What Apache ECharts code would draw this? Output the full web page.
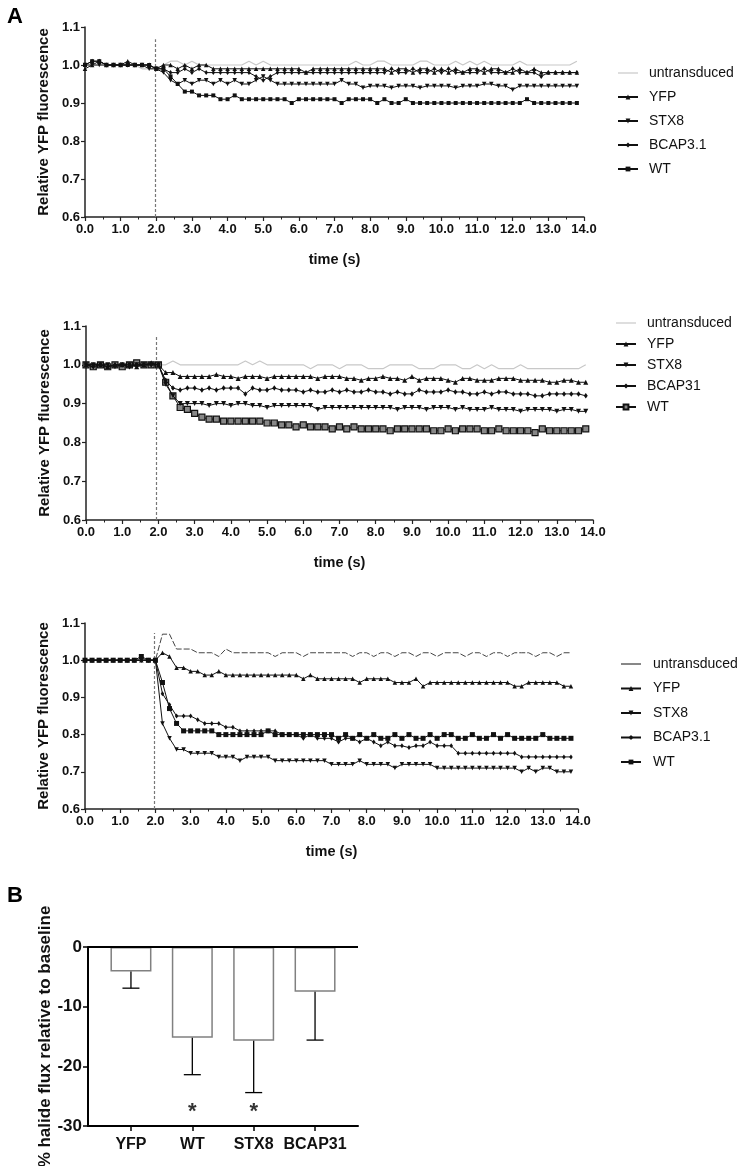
<!DOCTYPE html>
<html><head><meta charset="utf-8">
<script src="https://cdn.jsdelivr.net/npm/echarts@6/dist/echarts.min.js"></script>
<style>html,body{margin:0;padding:0;background:#fff}#c{width:743px;height:1166px}</style>
</head><body><div id="c"></div>
<script>
// ---------- DATA ----------
const times = [0.0,0.2,0.4,0.6,0.8,1.0,1.2,1.4,1.6,1.8,2.0,2.2,2.4,2.6,2.8,3.0,3.2,3.4,3.6,3.8,
4.0,4.2,4.4,4.6,4.8,5.0,5.2,5.4,5.6,5.8,6.0,6.2,6.4,6.6,6.8,7.0,7.2,7.4,7.6,7.8,
8.0,8.2,8.4,8.6,8.8,9.0,9.2,9.4,9.6,9.8,10.0,10.2,10.4,10.6,10.8,11.0,11.2,11.4,11.6,11.8,
12.0,12.2,12.4,12.6,12.8,13.0,13.2,13.4,13.6,13.8];
const xTicks = [0,1,2,3,4,5,6,7,8,9,10,11,12,13,14];
const yTicks = [0.6,0.7,0.8,0.9,1.0,1.1];

const p1Names = ['untransduced','YFP','STX8','BCAP3.1','WT'];
const p1Untr = [1.00,1.00,1.00,1.00,1.00,1.00,1.00,1.00,0.99,0.99,
0.99,1.00,1.01,1.01,1.00,1.01,1.00,1.00,1.00,1.00,
1.00,1.00,1.00,1.01,1.00,1.01,1.00,1.00,1.00,1.00,
1.00,1.00,1.00,1.00,1.00,1.00,1.00,1.00,1.01,1.00,
1.00,1.01,1.01,1.00,1.00,1.00,1.00,1.01,1.01,1.00,
1.00,1.00,1.01,1.00,1.01,1.00,1.01,1.00,1.00,1.00,
1.00,1.01,1.00,1.00,1.00,1.00,1.00,1.00,1.00,1.01];
const p1Yfp = [0.99,1.00,1.01,1.00,1.00,1.00,1.01,1.00,1.00,1.00,
0.99,1.00,1.00,0.99,1.00,0.99,1.00,1.00,0.99,0.99,
0.99,0.99,0.99,0.99,0.99,0.99,0.99,0.99,0.99,0.99,
0.99,0.98,0.99,0.99,0.99,0.99,0.99,0.99,0.99,0.99,
0.99,0.99,0.99,0.98,0.99,0.99,0.98,0.99,0.99,0.98,
0.99,0.98,0.99,0.98,0.99,0.99,0.98,0.99,0.99,0.98,
0.98,0.99,0.98,0.99,0.98,0.98,0.98,0.98,0.98,0.98];
const p1Stx8 = [1.00,1.00,1.00,1.00,1.00,1.00,1.00,1.00,1.00,0.99,
0.99,0.98,0.96,0.95,0.96,0.95,0.96,0.96,0.95,0.96,
0.95,0.96,0.95,0.95,0.96,0.97,0.96,0.95,0.95,0.95,
0.95,0.95,0.95,0.95,0.95,0.95,0.96,0.95,0.95,0.94,
0.945,0.945,0.945,0.94,0.945,0.945,0.945,0.94,0.945,0.945,
0.945,0.945,0.94,0.945,0.945,0.945,0.95,0.95,0.945,0.945,
0.935,0.945,0.945,0.945,0.945,0.945,0.945,0.945,0.945,0.945];
const p1Bcap = [1.00,1.01,1.01,1.00,1.00,1.00,1.00,1.00,1.00,1.00,
0.99,0.99,0.98,0.98,0.99,0.98,0.99,0.98,0.98,0.98,
0.98,0.98,0.98,0.98,0.97,0.96,0.97,0.98,0.98,0.98,
0.98,0.98,0.98,0.98,0.98,0.98,0.98,0.98,0.98,0.98,
0.98,0.98,0.98,0.99,0.98,0.98,0.99,0.98,0.98,0.99,
0.98,0.99,0.98,0.98,0.98,0.98,0.99,0.98,0.98,0.98,
0.99,0.98,0.98,0.98,0.97,0.98,0.98,0.98,0.98,0.98];
const p1Wt = [1.00,1.01,1.01,1.00,1.00,1.00,1.00,1.00,1.00,1.00,
0.99,0.99,0.97,0.95,0.93,0.93,0.92,0.92,0.92,0.91,
0.91,0.92,0.91,0.91,0.91,0.91,0.91,0.91,0.91,0.90,
0.91,0.91,0.91,0.91,0.91,0.91,0.90,0.91,0.91,0.91,
0.91,0.90,0.91,0.90,0.90,0.91,0.90,0.90,0.90,0.90,
0.90,0.90,0.90,0.90,0.90,0.90,0.90,0.90,0.90,0.90,
0.90,0.90,0.91,0.90,0.90,0.90,0.90,0.90,0.90,0.90];

const p2Names = ['untransduced','YFP','STX8','BCAP31','WT'];
const p2Untr = [1.00,1.00,1.00,1.00,1.00,1.00,1.00,1.00,1.00,1.00,
1.00,1.00,1.01,1.00,1.00,1.00,1.00,1.00,1.00,1.00,
1.00,1.00,1.01,1.00,1.01,1.00,1.00,1.00,1.00,1.00,
1.00,0.99,1.00,1.00,1.00,0.99,1.00,1.00,1.00,0.99,
0.99,0.99,1.00,1.00,1.00,1.00,0.99,0.99,0.99,1.00,
1.00,1.00,0.99,0.99,1.00,0.99,1.00,0.99,0.99,0.99,
1.00,0.99,0.99,0.99,0.99,0.99,0.99,0.99,0.99,1.00];
const p2Yfp = [1.00,1.00,1.00,0.995,1.00,1.00,1.00,0.995,1.00,1.005,
1.00,0.98,0.98,0.97,0.97,0.97,0.97,0.97,0.975,0.97,
0.97,0.965,0.97,0.97,0.97,0.965,0.97,0.97,0.97,0.97,
0.97,0.97,0.965,0.97,0.97,0.97,0.965,0.965,0.96,0.965,
0.965,0.97,0.965,0.965,0.96,0.97,0.96,0.965,0.965,0.965,
0.96,0.955,0.965,0.965,0.96,0.96,0.96,0.965,0.965,0.965,
0.96,0.96,0.96,0.96,0.955,0.955,0.96,0.96,0.955,0.955];
const p2Stx8 = [1.00,1.00,1.00,1.00,0.995,1.00,1.00,1.00,1.00,1.00,
1.00,0.95,0.92,0.90,0.90,0.90,0.90,0.895,0.90,0.90,
0.895,0.90,0.90,0.895,0.895,0.89,0.895,0.895,0.895,0.895,
0.895,0.895,0.885,0.89,0.89,0.89,0.89,0.89,0.89,0.89,
0.89,0.89,0.89,0.885,0.89,0.89,0.89,0.885,0.89,0.89,
0.89,0.885,0.89,0.885,0.885,0.885,0.89,0.885,0.885,0.885,
0.88,0.885,0.885,0.885,0.885,0.88,0.885,0.885,0.88,0.88];
const p2Bcap = [1.00,0.995,1.00,0.995,1.00,1.00,0.995,1.00,1.00,1.00,
1.00,0.96,0.94,0.935,0.94,0.94,0.935,0.94,0.935,0.94,
0.94,0.94,0.925,0.94,0.935,0.935,0.94,0.935,0.935,0.935,
0.93,0.935,0.93,0.93,0.935,0.93,0.935,0.93,0.93,0.935,
0.93,0.93,0.925,0.93,0.925,0.925,0.935,0.93,0.93,0.93,
0.935,0.93,0.93,0.925,0.925,0.93,0.925,0.93,0.93,0.925,
0.925,0.925,0.92,0.92,0.925,0.925,0.925,0.925,0.925,0.92];
const p2Wt = [1.00,0.995,1.00,0.995,1.00,0.995,1.00,1.005,1.00,1.00,
1.00,0.955,0.92,0.89,0.885,0.875,0.865,0.86,0.86,0.855,
0.855,0.855,0.855,0.855,0.855,0.85,0.85,0.845,0.845,0.84,
0.845,0.84,0.84,0.84,0.835,0.84,0.835,0.84,0.835,0.835,
0.835,0.835,0.83,0.835,0.835,0.835,0.835,0.835,0.83,0.83,
0.835,0.83,0.835,0.835,0.835,0.83,0.83,0.835,0.83,0.83,
0.83,0.83,0.825,0.835,0.83,0.83,0.83,0.83,0.83,0.835];

const p3Names = ['untransduced','YFP','STX8','BCAP3.1','WT'];
const p3Untr = [1.00,1.00,1.00,1.00,1.00,1.00,1.00,1.00,1.00,1.00,
1.00,1.07,1.07,1.03,1.03,1.03,1.02,1.02,1.02,1.01,
1.03,1.02,1.02,1.02,1.02,1.02,1.02,1.01,1.02,1.02,
1.02,1.01,1.02,1.02,1.02,1.02,1.02,1.02,1.01,1.02,
1.02,1.01,1.02,1.02,1.01,1.02,1.02,1.01,1.02,1.02,
1.01,1.02,1.02,1.02,1.01,1.02,1.02,1.01,1.02,1.02,
1.01,1.02,1.02,1.02,1.01,1.02,1.02,1.01,1.02,1.02];
const p3Yfp = [1.00,1.00,1.00,1.00,1.00,1.00,1.00,1.00,1.00,1.00,
1.00,1.02,1.01,0.98,0.98,0.97,0.97,0.96,0.96,0.97,
0.96,0.96,0.96,0.96,0.96,0.96,0.96,0.96,0.96,0.96,
0.96,0.95,0.96,0.95,0.95,0.95,0.95,0.95,0.95,0.94,
0.95,0.95,0.95,0.95,0.94,0.94,0.94,0.95,0.93,0.94,
0.94,0.94,0.94,0.94,0.94,0.94,0.94,0.94,0.94,0.94,
0.94,0.93,0.93,0.94,0.94,0.94,0.94,0.94,0.93,0.93];
const p3Stx8 = [1.00,1.00,1.00,1.00,1.00,1.00,1.00,1.00,1.00,1.00,
1.00,0.83,0.79,0.76,0.76,0.75,0.75,0.75,0.75,0.74,
0.74,0.74,0.73,0.74,0.74,0.74,0.74,0.73,0.73,0.73,
0.73,0.73,0.73,0.73,0.73,0.72,0.72,0.72,0.72,0.73,
0.72,0.72,0.72,0.72,0.71,0.72,0.72,0.72,0.72,0.72,
0.71,0.71,0.71,0.71,0.71,0.71,0.71,0.71,0.71,0.71,
0.71,0.71,0.70,0.71,0.70,0.71,0.71,0.70,0.70,0.70];
const p3Bcap = [1.00,1.00,1.00,1.00,1.00,1.00,1.00,1.00,1.00,1.00,
1.00,0.91,0.88,0.85,0.85,0.85,0.84,0.83,0.83,0.83,
0.82,0.82,0.81,0.81,0.81,0.81,0.81,0.81,0.80,0.80,
0.80,0.79,0.80,0.79,0.79,0.79,0.78,0.79,0.79,0.78,
0.79,0.78,0.77,0.78,0.77,0.77,0.765,0.77,0.77,0.78,
0.77,0.77,0.77,0.75,0.75,0.75,0.75,0.75,0.75,0.75,
0.75,0.75,0.74,0.74,0.74,0.74,0.74,0.74,0.74,0.74];
const p3Wt = [1.00,1.00,1.00,1.00,1.00,1.00,1.00,1.00,1.01,1.00,
1.00,0.94,0.87,0.83,0.81,0.81,0.81,0.81,0.81,0.80,
0.80,0.80,0.80,0.80,0.80,0.80,0.81,0.80,0.80,0.80,
0.80,0.80,0.80,0.80,0.80,0.80,0.79,0.80,0.79,0.80,
0.79,0.80,0.79,0.79,0.80,0.79,0.80,0.79,0.79,0.80,
0.79,0.80,0.80,0.79,0.79,0.80,0.79,0.79,0.80,0.79,
0.80,0.79,0.79,0.79,0.79,0.80,0.79,0.79,0.79,0.79];

const stimulusTime = [1.97, 1.95, 1.97];
const stimulusTop = [1.068, 1.076, 1.073];

const barCategories = ['YFP','WT','STX8','BCAP31'];
const barMeans = [-4.1, -15.2, -15.7, -7.5];
const barErrLow = [-6.9, -21.4, -24.4, -15.6];
const starCategories = [1, 2];
const starLevel = [-26.8, -26.8];
const barTicks = [0, -10, -20, -30];

// ---------- BUILD ----------
const FONT = "'Liberation Sans', Arial, sans-serif";
const pairs = v => v.map((y, i) => [times[i], y]);

const panels = [
  {names: p1Names, data: [p1Untr, p1Yfp, p1Stx8, p1Bcap, p1Wt],
   grid: {left: 85, top: 27, width: 499, height: 190},
   legendTop: 66, legendGap: 10, legendLeft: 617, textPad: 6,
   untr: {color: '#c8c8c8', width: 1.2, type: 'solid'}, untrLegend: {color: '#c8c8c8', width: 1.2, type: 'solid'},
   sym: [4.5, 4.5, 3.5, 4], wt: {color: '#111', border: '#111'}},
  {names: p2Names, data: [p2Untr, p2Yfp, p2Stx8, p2Bcap, p2Wt],
   grid: {left: 86, top: 326, width: 507, height: 194},
   legendTop: 316, legendGap: 7, legendLeft: 615, textPad: 6,
   untr: {color: '#c8c8c8', width: 1.2, type: 'solid'}, untrLegend: {color: '#c8c8c8', width: 1.2, type: 'solid'},
   sym: [5, 5, 4, 6], wt: {color: '#888', border: '#111'}},
  {names: p3Names, data: [p3Untr, p3Yfp, p3Stx8, p3Bcap, p3Wt],
   grid: {left: 85, top: 623, width: 493, height: 186},
   legendTop: 657, legendGap: 10.5, legendLeft: 620, textPad: 7,
   untr: {color: '#444', width: 1, type: [6, 2]}, untrLegend: {color: '#111', width: 1, type: 'solid'},
   sym: [4.5, 4.5, 3.5, 5], wt: {color: '#111', border: '#111'}}
];

const grids = [], xAxes = [], yAxes = [], legends = [], series = [];
panels.forEach((P, pi) => {
  grids.push(Object.assign({outerBoundsMode: 'none', containLabel: false}, P.grid));
  xAxes.push({
    type: 'value', gridIndex: pi, min: xTicks[0], max: xTicks[xTicks.length - 1], interval: 1,
    name: 'time (s)', nameLocation: 'middle', nameGap: 35,
    nameTextStyle: {fontWeight: 'bold', fontSize: 14.5, color: '#111', fontFamily: FONT},
    axisLine: {onZero: false, lineStyle: {color: '#222', width: 1.5}},
    axisTick: {length: 4, lineStyle: {color: '#222', width: 1.2}},
    minorTick: {show: true, splitNumber: 2, length: 2.5, lineStyle: {color: '#222', width: 1}},
    axisLabel: {formatter: v => v.toFixed(1), fontWeight: 'bold', fontSize: 13, color: '#111', margin: 6, fontFamily: FONT},
    splitLine: {show: false}, minorSplitLine: {show: false}
  });
  yAxes.push({
    type: 'value', gridIndex: pi, min: yTicks[0], max: yTicks[yTicks.length - 1], interval: 0.1,
    name: 'Relative YFP fluorescence', nameLocation: 'middle', nameGap: 29,
    nameTextStyle: {fontWeight: 'bold', fontSize: 15, color: '#111', fontFamily: FONT},
    axisLine: {show: true, onZero: false, lineStyle: {color: '#222', width: 1.5}},
    axisTick: {show: true, length: 4, lineStyle: {color: '#222', width: 1.2}},
    axisLabel: {formatter: v => v.toFixed(1), fontWeight: 'bold', fontSize: 13, color: '#111', margin: 5, fontFamily: FONT},
    splitLine: {show: false}
  });
  const ids = P.names.map(n => pi + '|' + n);
  legends.push({
    data: ids.map((id, k) => k === 0
      ? {name: id, itemStyle: {opacity: 0}, lineStyle: P.untrLegend}
      : {name: id}),
    orient: 'vertical', left: P.legendLeft, top: P.legendTop, padding: 0,
    itemWidth: 20, itemHeight: 6, itemGap: P.legendGap, selectedMode: false,
    formatter: n => n.split('|')[1],
    textStyle: {fontSize: 14, color: '#111', fontFamily: FONT, padding: [0, 0, 0, P.textPad]}
  });
  const base = (k, extra) => Object.assign({
    type: 'line', name: ids[k], xAxisIndex: pi, yAxisIndex: pi, data: pairs(P.data[k]),
    showAllSymbol: true, z: 10 - k,
    lineStyle: {color: '#111', width: 1}, itemStyle: {color: '#111'}
  }, extra);
  series.push(base(0, {
    symbol: 'none', z: 2,
    lineStyle: {color: P.untr.color, width: P.untr.width, type: P.untr.type},
    itemStyle: {color: P.untr.color},
    markLine: {silent: true, symbol: ['none', 'none'], label: {show: false},
      lineStyle: {type: [3, 2], color: '#777', width: 1.2},
      data: [[{coord: [stimulusTime[pi], yTicks[0]]}, {coord: [stimulusTime[pi], stimulusTop[pi]]}]]}
  }));
  series.push(base(1, {symbol: 'triangle', symbolSize: P.sym[0]}));
  series.push(base(2, {symbol: 'triangle', symbolRotate: 180, symbolSize: P.sym[1]}));
  series.push(base(3, {symbol: 'diamond', symbolSize: [P.sym[2], P.sym[2] + 1.5]}));
  series.push(base(4, {symbol: 'rect', symbolSize: P.sym[3],
    itemStyle: {color: P.wt.color, borderColor: P.wt.border, borderWidth: pi === 1 ? 1.2 : 0}}));
});

// bar panel
grids.push({left: 88, top: 947, width: 270, height: 179, outerBoundsMode: 'none', containLabel: false});
xAxes.push({
  type: 'value', gridIndex: 3, min: -0.7, max: 3.7,
  axisLine: {onZero: false, lineStyle: {color: '#000', width: 2}},
  axisTick: {customValues: [0, 1, 2, 3], length: 5, lineStyle: {color: '#000', width: 1.5}},
  axisLabel: {customValues: [0, 1, 2, 3], formatter: v => barCategories[Math.round(v)],
    fontWeight: 'bold', fontSize: 16, color: '#111', margin: 11, fontFamily: FONT},
  splitLine: {show: false}
});
yAxes.push({
  type: 'value', gridIndex: 3, min: barTicks[barTicks.length - 1], max: barTicks[0], interval: 10,
  name: '% halide flux relative to baseline', nameLocation: 'middle', nameGap: 34,
  nameTextStyle: {fontWeight: 'bold', fontSize: 17, color: '#111', fontFamily: FONT},
  axisLine: {show: true, onZero: false, lineStyle: {color: '#000', width: 2}},
  axisTick: {show: true, length: 5, lineStyle: {color: '#000', width: 1.5}},
  axisLabel: {fontWeight: 'bold', fontSize: 17, color: '#111', margin: 6, fontFamily: FONT},
  splitLine: {show: false}
});
series.push({
  type: 'bar', xAxisIndex: 3, yAxisIndex: 3, barWidth: 41,
  data: barMeans.map((v, i) => [i, v]),
  itemStyle: {color: '#fff', borderColor: '#808080', borderWidth: 1.5},
  markLine: {silent: true, symbol: ['none', 'none'], label: {show: false},
    lineStyle: {color: '#000', width: 2, type: 'solid'}, data: [{yAxis: 0}]}
});
series.push({
  type: 'custom', xAxisIndex: 3, yAxisIndex: 3, z: 5,
  data: barMeans.map((m, i) => [i, m, barErrLow[i]]),
  encode: {x: 0, y: [1, 2]},
  renderItem: (params, api) => {
    const p0 = api.coord([api.value(0), api.value(1)]);
    const p1 = api.coord([api.value(0), api.value(2)]);
    const cap = 8.5;
    return {type: 'group', children: [
      {type: 'line', shape: {x1: p0[0], y1: p0[1], x2: p1[0], y2: p1[1]}, style: {stroke: '#000', lineWidth: 1.3}},
      {type: 'line', shape: {x1: p1[0] - cap, y1: p1[1], x2: p1[0] + cap, y2: p1[1]}, style: {stroke: '#000', lineWidth: 1.3}}
    ]};
  }
});
series.push({
  type: 'scatter', xAxisIndex: 3, yAxisIndex: 3, symbol: 'circle', symbolSize: 1, z: 6,
  itemStyle: {color: 'rgba(0,0,0,0)'},
  data: starCategories.map((c, i) => [c, starLevel[i]]),
  label: {show: true, formatter: '*', position: 'inside', fontSize: 22, fontWeight: 'bold', color: '#000', fontFamily: FONT, offset: [0, 5]}
});

const chart = echarts.init(document.getElementById('c'), null, {renderer: 'canvas'});
chart.setOption({
  animation: false,
  backgroundColor: '#fff',
  textStyle: {fontFamily: FONT},
  title: [
    {text: 'A', left: 2, top: 1, textStyle: {fontSize: 22, fontWeight: 'bold', color: '#000', fontFamily: FONT}},
    {text: 'B', left: 2, top: 880, textStyle: {fontSize: 22, fontWeight: 'bold', color: '#000', fontFamily: FONT}}
  ],
  grid: grids, xAxis: xAxes, yAxis: yAxes, legend: legends, series: series
});
</script></body></html>
